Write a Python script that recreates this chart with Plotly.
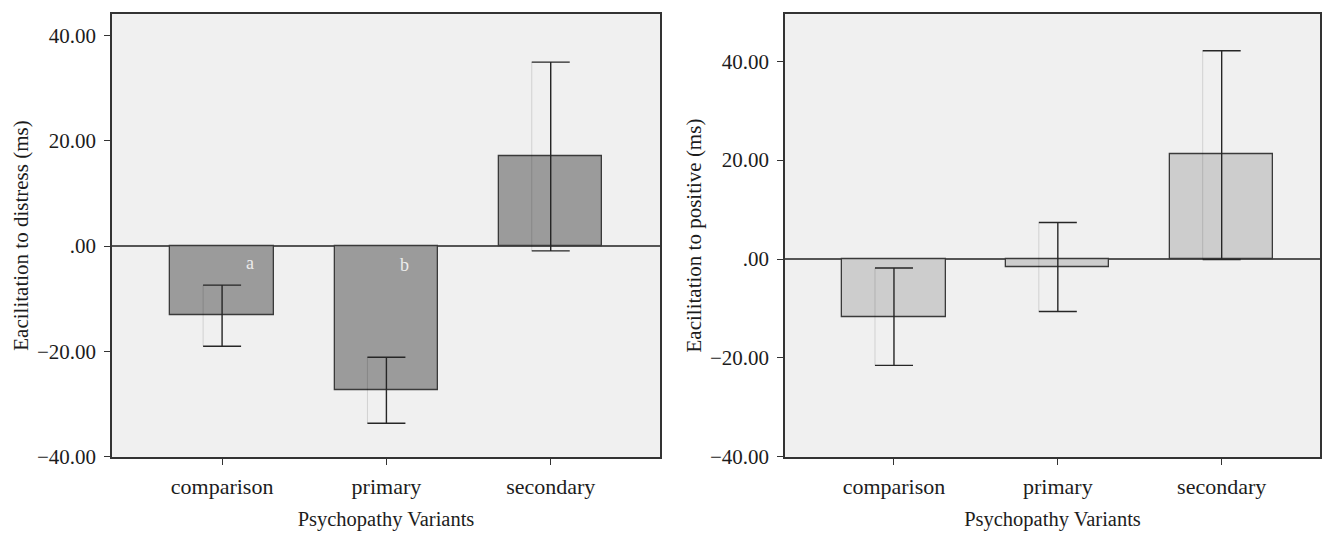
import plotly.graph_objects as go

categories = ["comparison", "primary", "secondary"]

distress_mean = [-13.2, -27.3, 17.05]
distress_upper = [-7.4, -21.1, 34.9]
distress_lower = [-19.0, -33.6, -0.9]

positive_mean = [-11.65, -1.55, 21.1]
positive_upper = [-1.8, 7.4, 42.1]
positive_lower = [-21.5, -10.6, -0.1]

ytick_vals = [-40, -20, 0, 20, 40]
ytick_text = ["\u221240.00", "\u221220.00", ".00", "20.00", "40.00"]

xpos = list(range(len(categories)))
FONT = "Liberation Serif"
DARK = "#262626"
TXT = "#1c1c1c"

fig = go.Figure()


def add_panel(means, upper, lower, color, xa, ya, xspan, cap_px):
    err_plus = [u - m for u, m in zip(upper, means)]
    err_minus = [m - l for m, l in zip(means, lower)]
    fig.add_trace(go.Bar(
        x=xpos, y=means, width=0.63, marker=dict(color=color, line=dict(color="#3a3a3a", width=1.3)),
        error_y=dict(type="data", array=err_plus, arrayminus=err_minus, visible=True,
                     color=DARK, thickness=1.4, width=cap_px),
        xaxis=xa, yaxis=ya, showlegend=False, hoverinfo="skip"))
    off = cap_px / xspan
    gx, gy = [], []
    for i, (u, l) in enumerate(zip(upper, lower)):
        gx += [i - off, i - off, None]
        gy += [u, l, None]
    fig.add_trace(go.Scatter(x=gx, y=gy, mode="lines",
                             line=dict(color="rgba(0,0,0,0.13)", width=1),
                             xaxis=xa, yaxis=ya, showlegend=False, hoverinfo="skip"))


add_panel(distress_mean, distress_upper, distress_lower, "#9b9b9b", "x", "y", 164.5, 19)
add_panel(positive_mean, positive_upper, positive_lower, "#cdcdcd", "x2", "y2", 164.0, 19)

OFF = 8      # page body margin
VS = 0.978   # observed vertical scale of the capture
W, H = 1316, 532


def px_x(p):
    return (p - OFF) / W


def px_y(p):
    return 1 - (p / VS - OFF) / H


axis_common = dict(showline=True, mirror=True, linecolor="#333", linewidth=1.5,
                   showgrid=False, ticks="outside", ticklen=6, tickwidth=1.3, tickcolor="#333")

yfont = dict(family=FONT, size=21, color=TXT)
xfont = dict(family=FONT, size=22, color=TXT)
ytfont = dict(family=FONT, size=21, color=TXT)
ydom = [px_y(457), px_y(14)]
xtitle = dict(text="Psychopathy Variants", font=dict(family=FONT, size=20.5, color=TXT), standoff=14)
fig.update_layout(
    width=W, height=H,
    margin=dict(l=0, r=0, t=0, b=0),
    paper_bgcolor="white", plot_bgcolor="#f0f0f0",
    font=dict(family=FONT, color=TXT),
    bargap=0,
    xaxis=dict(domain=[px_x(112), px_x(660)], range=[-0.67, 2.665], tickvals=xpos, ticktext=categories,
               zeroline=False, anchor="y", ticklabelstandoff=3, tickfont=xfont, title=xtitle, **axis_common),
    yaxis=dict(domain=ydom, range=[-40, 44], tickvals=ytick_vals, ticktext=ytick_text,
               zeroline=True, zerolinecolor="#555", zerolinewidth=1.5, anchor="x", ticklabelstandoff=4,
               tickfont=yfont,
               title=dict(text="Eacilitation to distress (ms)", font=ytfont, standoff=3),
               **axis_common),
    xaxis2=dict(domain=[px_x(785), px_x(1320)], range=[-0.665, 2.6], tickvals=xpos, ticktext=categories,
                zeroline=False, anchor="y2", ticklabelstandoff=3, tickfont=xfont, title=xtitle, **axis_common),
    yaxis2=dict(domain=ydom, range=[-40, 49.5], tickvals=ytick_vals, ticktext=ytick_text,
                zeroline=True, zerolinecolor="#555", zerolinewidth=1.5, anchor="x2", ticklabelstandoff=4,
                tickfont=yfont,
                title=dict(text="Eacilitation to positive (ms)", font=ytfont, standoff=3),
                **axis_common),
    annotations=[
        dict(x=0.17, y=-3.2, xref="x", yref="y", text="a", showarrow=False,
             font=dict(family=FONT, size=18, color="#ececec")),
        dict(x=1.11, y=-3.6, xref="x", yref="y", text="b", showarrow=False,
             font=dict(family=FONT, size=18, color="#ececec")),
    ],
)

fig.write_html("out.html")
